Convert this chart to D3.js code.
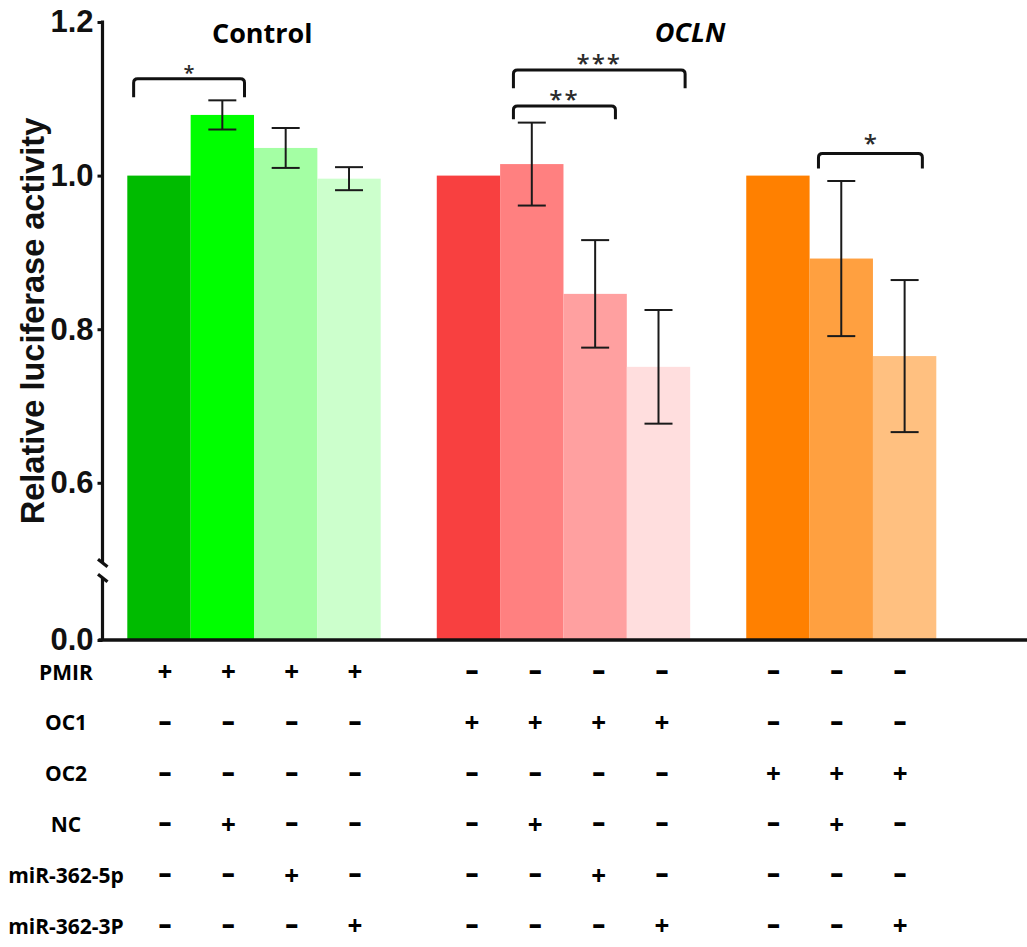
<!DOCTYPE html>
<html>
<head>
<meta charset="utf-8">
<script src="https://cdn.jsdelivr.net/npm/d3@7/dist/d3.min.js"></script>
<style>
  html, body { margin: 0; padding: 0; background: #fff; }
  svg { display: block; }
</style>
</head>
<body>
<svg id="chart" width="1027" height="947"></svg>
<script>
// ---------------- data ----------------
const groups = ["Control", "OCLN", "OC2"];
const barGroup = [0, 0, 0, 0, 1, 1, 1, 1, 2, 2, 2];
const values = [1.0, 1.079, 1.036, 0.996, 1.0, 1.015, 0.846, 0.751, 1.0, 0.892, 0.765];
const errors = [0, 0.019, 0.026, 0.015, 0, 0.054, 0.07, 0.074, 0, 0.101, 0.099];
const yTicksTop = [0.6, 0.8, 1.0, 1.2];
const yTicksBottom = [0.0];
const rowLabels = ["PMIR", "OC1", "OC2", "NC", "miR-362-5p", "miR-362-3P"];
const rowFlags = [
  [1, 1, 1, 1, 0, 0, 0, 0, 0, 0, 0],
  [0, 0, 0, 0, 1, 1, 1, 1, 0, 0, 0],
  [0, 0, 0, 0, 0, 0, 0, 0, 1, 1, 1],
  [0, 1, 0, 0, 0, 1, 0, 0, 0, 1, 0],
  [0, 0, 1, 0, 0, 0, 1, 0, 0, 0, 0],
  [0, 0, 0, 1, 0, 0, 0, 1, 0, 0, 1]
];
// significance brackets: bar indices, bracket level and leg end (data units)
const bracketFrom = [0, 5, 5, 9];
const bracketTo = [1, 7, 6, 10];
const bracketLevel = [1.126, 1.1375, 1.0907, 1.0287];
const bracketLegEnd = [1.102, 1.1137, 1.0733, 1.0091];
const bracketLabels = ["*", "***", "**", "*"];

// ---------------- styles ----------------
const colors = ["#00bb00", "#00ff00", "#a4ffa4", "#ccffcc",
                "#f84040", "#ff8080", "#ffa0a0", "#ffdede",
                "#ff8000", "#ffa040", "#ffc080"];
const sansBold = "'Liberation Sans', Arial, sans-serif";
const calib = "'Open Sans', 'Noto Sans', sans-serif";

// ---------------- layout ----------------
const svg = d3.select("#chart");
const axisX = 102.5;
const zeroY = 640;
const gapUnits = 0.885;
const nPos = values.length + gapUnits * (groups.length - 1);
const x = d3.scaleLinear().domain([0, nPos]).range([127.3, 936.3]);
const bw = x(1) - x(0);
const pos = i => i + barGroup[i] * gapUnits;
const barLeft = i => x(pos(i));
const barCenter = i => x(pos(i) + 0.5);

const yTop = d3.scaleLinear().domain([0.6, 1.2]).range([482.8, 22.0]);
const yBottom = d3.scaleLinear().domain([0, 0.1]).range([zeroY, zeroY - 76.8]);
const breakTopEnd = 563;
const breakBottomStart = 578;

// ---------------- bars ----------------
svg.append("g").selectAll("rect").data(values).join("rect")
  .attr("x", (d, i) => barLeft(i))
  .attr("y", d => yTop(d))
  .attr("width", bw)
  .attr("height", d => zeroY - yTop(d))
  .attr("fill", (d, i) => colors[i]);

// ---------------- error bars ----------------
const eb = svg.append("g").attr("stroke", "#1a1a1a").attr("stroke-width", 2);
values.forEach((v, i) => {
  if (!errors[i]) return;
  const cx = barCenter(i), cap = 14;
  const y1 = yTop(v + errors[i]), y2 = yTop(v - errors[i]);
  eb.append("line").attr("x1", cx).attr("x2", cx).attr("y1", y1).attr("y2", y2);
  eb.append("line").attr("x1", cx - cap).attr("x2", cx + cap).attr("y1", y1).attr("y2", y1);
  eb.append("line").attr("x1", cx - cap).attr("x2", cx + cap).attr("y1", y2).attr("y2", y2);
});

// ---------------- brackets ----------------
const fracFrom = [0.1, 0.21, 0.21, 0.14];
const fracTo = [0.85, 0.92, 0.82, 0.78];
const br = svg.append("g");
bracketLabels.forEach((lab, k) => {
  const x1 = x(pos(bracketFrom[k]) + fracFrom[k]);
  const x2 = x(pos(bracketTo[k]) + fracTo[k]);
  const yl = yTop(bracketLevel[k]);
  const ye = yTop(bracketLegEnd[k]);
  const r = 4;
  br.append("path")
    .attr("d", `M${x1},${ye} L${x1},${yl + r} Q${x1},${yl} ${x1 + r},${yl} L${x2 - r},${yl} Q${x2},${yl} ${x2},${yl + r} L${x2},${ye}`)
    .attr("fill", "none").attr("stroke", "#111").attr("stroke-width", 3);
  br.append("text")
    .attr("x", (x1 + x2) / 2)
    .attr("y", yl + (k === 0 ? 1 : (k === 3 ? -2 : 2)))
    .attr("text-anchor", "middle")
    .attr("font-family", calib)
    .attr("font-weight", 600)
    .attr("font-size", k === 0 ? 20 : 24)
    .attr("letter-spacing", lab.length > 1 ? 2 : 0)
    .attr("fill", "#2a2a2a")
    .text(lab);
});

// ---------------- axes ----------------
const axTop = d3.axisLeft(yTop).tickValues(yTicksTop).tickSize(5).tickPadding(4)
  .tickFormat(d3.format(".1f"));
const axBottom = d3.axisLeft(yBottom).tickValues(yTicksBottom).tickSize(5).tickPadding(4)
  .tickFormat(d3.format(".1f"));
[axTop, axBottom].forEach(ax => {
  const g = svg.append("g").attr("transform", `translate(${axisX},0)`).call(ax);
  g.select(".domain").remove();
  g.selectAll(".tick line").attr("stroke", "#111").attr("stroke-width", 3);
  g.selectAll(".tick text")
    .attr("font-family", sansBold).attr("font-weight", "bold")
    .attr("font-size", 31).attr("fill", "#111");
});
const axG = svg.append("g").attr("stroke", "#111").attr("stroke-width", 3.2).attr("fill", "none");
axG.append("line").attr("x1", axisX).attr("x2", axisX).attr("y1", yTop(1.2) - 1.5).attr("y2", breakTopEnd);
axG.append("line").attr("x1", axisX - 4.5).attr("x2", axisX + 5).attr("y1", breakTopEnd - 3.8).attr("y2", breakTopEnd + 3.8);
axG.append("line").attr("x1", axisX - 4.5).attr("x2", axisX + 5).attr("y1", breakBottomStart - 3.8).attr("y2", breakBottomStart + 3.8);
axG.append("line").attr("x1", axisX).attr("x2", axisX).attr("y1", breakBottomStart).attr("y2", zeroY);
axG.append("line").attr("x1", axisX - 4).attr("x2", 1027).attr("y1", zeroY).attr("y2", zeroY).attr("stroke-width", 3.4);

// y-axis title
svg.append("text")
  .attr("transform", `translate(44,${321}) rotate(-90)`)
  .attr("text-anchor", "middle")
  .attr("font-family", sansBold).attr("font-weight", "bold")
  .attr("font-size", 32.5).attr("fill", "#111")
  .text("Relative luciferase activity");

// group titles
svg.append("text")
  .attr("x", x(pos(1) + 1.13)).attr("y", 43)
  .attr("text-anchor", "middle")
  .attr("font-family", calib).attr("font-weight", "bold").attr("font-size", 27)
  .text(groups[0]);
svg.append("text")
  .attr("x", x(pos(7) + 1.0)).attr("y", 42)
  .attr("text-anchor", "middle")
  .attr("font-family", calib).attr("font-weight", "bold").attr("font-style", "italic")
  .attr("font-size", 27)
  .text(groups[1]);

// ---------------- condition table ----------------
const rowY = d3.scaleLinear().domain([0, rowLabels.length - 1]).range([672, 926]);
const colShift = [6, 3.5, -4.5];
const tbl = svg.append("g");
rowLabels.forEach((lab, r) => {
  tbl.append("text")
    .attr("x", 66).attr("y", rowY(r))
    .attr("dy", "0.36em")
    .attr("text-anchor", "middle")
    .attr("font-family", calib).attr("font-weight", "bold").attr("font-size", 21)
    .text(lab);
  rowFlags[r].forEach((f, i) => {
    const cx = barCenter(i) + colShift[barGroup[i]];
    const cy = rowY(r);
    const t = tbl.append("text")
      .attr("x", cx)
      .attr("y", cy)
      .attr("text-anchor", "middle")
      .attr("font-family", calib).attr("font-weight", "bold");
    if (f) {
      t.attr("dy", "0.36em").attr("font-size", 26).text("+");
    } else {
      t.attr("dy", "0.27em").attr("font-size", 30)
        .attr("transform", `translate(${cx},${cy}) scale(1.4,1) translate(${-cx},${-cy})`)
        .text("-");
    }
  });
});
</script>
</body>
</html>
